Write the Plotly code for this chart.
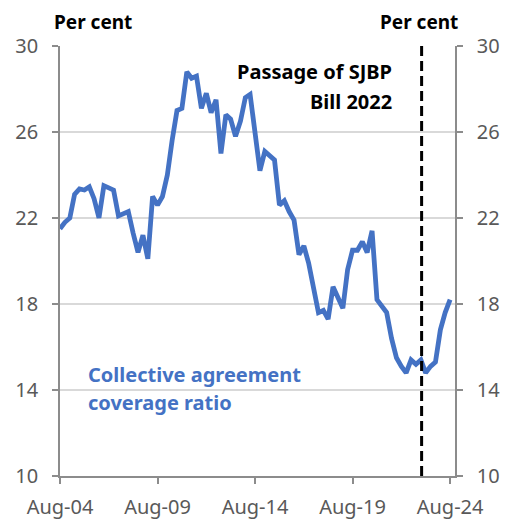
import plotly.graph_objects as go
import pandas as pd

values = [21.5, 21.8, 22.0, 23.1, 23.35, 23.3, 23.45, 22.9, 22.0, 23.5,
          23.4, 23.3, 22.1, 22.2, 22.3, 21.3, 20.4, 21.2, 20.1, 23.0,
          22.6, 23.0, 24.0, 25.6, 27.0, 27.1, 28.8, 28.5, 28.6, 27.1,
          27.8, 26.9, 27.5, 25.0, 26.8, 26.6, 25.8, 26.5, 27.6, 27.75,
          26.0, 24.2, 25.1, 24.9, 24.7, 22.6, 22.8, 22.3, 21.9, 20.3,
          20.7, 19.9, 18.8, 17.6, 17.7, 17.3, 18.8, 18.3, 17.8, 19.6,
          20.5, 20.5, 20.9, 20.4, 21.4, 18.2, 17.9, 17.6, 16.4, 15.5,
          15.1, 14.8, 15.4, 15.2, 15.4, 14.8, 15.1, 15.3, 16.8, 17.6,
          18.2]
dates = pd.date_range("2004-08-01", periods=len(values), freq="3MS")

tick_dates = ["2004-08-01", "2009-08-01", "2014-08-01", "2019-08-01", "2024-08-01"]
tick_labels = ["Aug-04", "Aug-09", "Aug-14", "Aug-19", "Aug-24"]
y_ticks = [10, 14, 18, 22, 26, 30]
event_date = "2023-02-15"

blue = "#4472C4"
axis_col = "#8C8C8C"
label_col = "#595959"
font_fam = "Noto Sans, Open Sans, sans-serif"

fig = go.Figure()
fig.add_trace(go.Scatter(x=dates, y=values, mode="lines",
                         line=dict(color=blue, width=4.8), showlegend=False,
                         hoverinfo="skip"))
fig.add_trace(go.Scatter(x=dates, y=values, mode="lines", yaxis="y2",
                         line=dict(color="rgba(0,0,0,0)", width=0), showlegend=False,
                         hoverinfo="skip"))
fig.add_trace(go.Scatter(x=[event_date, event_date], y=[10, 30], mode="lines",
                         line=dict(color="black", width=3, dash="10px,5px"),
                         showlegend=False, hoverinfo="skip"))

fig.update_layout(
    width=502, height=511,
    margin=dict(l=52, r=55, t=38, b=43, autoexpand=False),
    paper_bgcolor="white", plot_bgcolor="white",
    font=dict(family=font_fam, color=label_col, size=20),
    xaxis=dict(range=["2004-08-01", "2024-11-01"], tickvals=tick_dates,
               ticktext=tick_labels, showgrid=False, showline=True,
               linecolor=axis_col, linewidth=1.5, ticks="outside", ticklen=6,
               tickcolor=axis_col, tickwidth=1.5, zeroline=False, automargin=False,
               ticklabelstandoff=6,
               tickfont=dict(size=20, color=label_col)),
    yaxis=dict(range=[10, 30], tickvals=y_ticks, showgrid=True,
               gridcolor="#D9D9D9", gridwidth=1.5, showline=True,
               linecolor=axis_col, linewidth=1.5, ticks="outside", ticklen=6,
               tickcolor=axis_col, tickwidth=1.5, zeroline=False, automargin=False,
               ticklabelstandoff=10,
               tickfont=dict(size=20, color=label_col)),
    yaxis2=dict(range=[10, 30], tickvals=y_ticks, overlaying="y", side="right",
                showgrid=False, showline=True, linecolor=axis_col, linewidth=1.5,
                ticks="outside", ticklen=6, tickcolor=axis_col, tickwidth=1.5,
                zeroline=False, automargin=False, ticklabelstandoff=10,
                tickfont=dict(size=20, color=label_col)),
)

fig.add_annotation(text="<b>Per cent</b>", xref="paper", yref="paper",
                   x=-0.02, y=1.0, yshift=24, xanchor="left", yanchor="middle",
                   showarrow=False, font=dict(size=19, color="black", family=font_fam))
fig.add_annotation(text="<b>Per cent</b>", xref="paper", yref="paper",
                   x=1.012, y=1.0, yshift=24, xanchor="right", yanchor="middle",
                   showarrow=False, font=dict(size=19, color="black", family=font_fam))
fig.add_annotation(text="<b>Passage of SJBP</b>", xref="paper", yref="y",
                   x=0.846, y=28.8, xanchor="right", yanchor="middle",
                   showarrow=False, font=dict(size=20, color="black", family=font_fam))
fig.add_annotation(text="<b>Bill 2022</b>", xref="paper", yref="y",
                   x=0.846, y=27.4, xanchor="right", yanchor="middle",
                   showarrow=False, font=dict(size=20, color="black", family=font_fam))
fig.add_annotation(text="<b>Collective agreement</b>", xref="paper", yref="y",
                   x=0.066, y=14.7, xanchor="left", yanchor="middle",
                   showarrow=False, font=dict(size=20, color=blue, family=font_fam))
fig.add_annotation(text="<b>coverage ratio</b>", xref="paper", yref="y",
                   x=0.066, y=13.4, xanchor="left", yanchor="middle",
                   showarrow=False, font=dict(size=20, color=blue, family=font_fam))

fig.write_html("out.html")
